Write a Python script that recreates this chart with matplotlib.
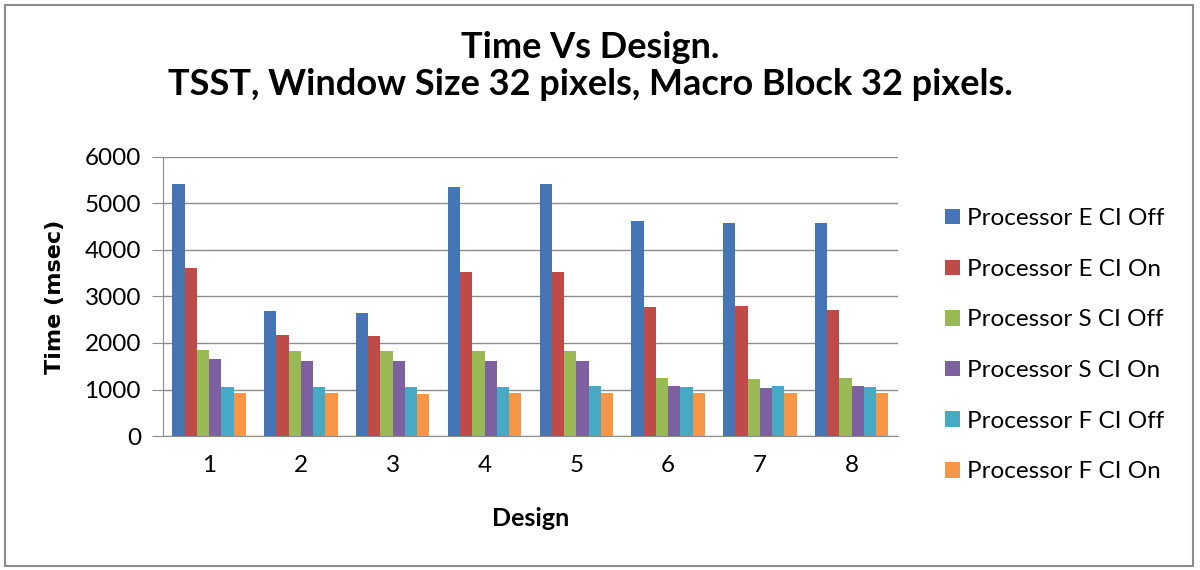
import numpy as np
import matplotlib
matplotlib.use('Agg')
import matplotlib.pyplot as plt
from matplotlib.patches import Rectangle

designs = ['1', '2', '3', '4', '5', '6', '7', '8']
series_names = ['Processor E CI Off', 'Processor E CI On',
                'Processor S CI Off', 'Processor S CI On',
                'Processor F CI Off', 'Processor F CI On']

e_ci_off = [5420, 2680, 2650, 5360, 5420, 4630, 4580, 4580]
e_ci_on = [3600, 2170, 2140, 3520, 3520, 2770, 2800, 2700]
s_ci_off = [1850, 1820, 1820, 1820, 1820, 1250, 1220, 1250]
s_ci_on = [1650, 1620, 1620, 1620, 1620, 1070, 1040, 1070]
f_ci_off = [1050, 1050, 1050, 1050, 1070, 1050, 1070, 1050]
f_ci_on = [930, 930, 900, 930, 930, 930, 930, 930]

series = [e_ci_off, e_ci_on, s_ci_off, s_ci_on, f_ci_off, f_ci_on]
colors = ['#4575b4', '#be4b48', '#98b954', '#7d60a0', '#46aac5', '#f79646']

plt.rcParams['font.family'] = ['Lato', 'DejaVu Sans']

fig = plt.figure(figsize=(12, 5.7), dpi=100)
ax = fig.add_axes([0.136, 0.235, 0.612, 0.49])

x = np.arange(len(designs))
w = 0.133
for i, (vals, name, c) in enumerate(zip(series, series_names, colors)):
    ax.bar(x + (i - 2.5) * w, vals, w, color=c, label=name, zorder=3)

ax.set_xlim(-0.5, len(designs) - 0.5)
ax.set_ylim(0, 6000)
ax.set_yticks(range(0, 6001, 1000))
ax.set_xticks(x)
ax.set_xticklabels(designs)
ax.yaxis.grid(True, color='#8c8c8c', linewidth=1, zorder=0)
for s in ['top', 'right']:
    ax.spines[s].set_visible(False)
for s in ['left', 'bottom']:
    ax.spines[s].set_color('#8c8c8c')
ax.tick_params(axis='y', length=8, color='#8c8c8c', labelsize=17.5, pad=8)
ax.tick_params(axis='x', length=0, labelsize=17.5, pad=14)

ax.set_xlabel('Design', fontsize=18, fontweight='bold', labelpad=22)
ax.set_ylabel('Time (msec)', fontsize=16, fontweight='bold',
              family='DejaVu Sans', labelpad=14)

fig.text(0.492, 0.917, 'Time Vs Design.', ha='center', va='center',
         fontsize=26, fontweight='bold')
fig.text(0.492, 0.851, 'TSST, Window Size 32 pixels, Macro Block 32 pixels.',
         ha='center', va='center', fontsize=26, fontweight='bold')

ax.legend(loc='center left', bbox_to_anchor=(1.035, 0.325), frameon=False,
          fontsize=17.5, handlelength=0.6, handleheight=0.6, handletextpad=0.3,
          labelspacing=1.22)

fig.patches.append(Rectangle((0.004, 0.007), 0.99, 0.985, transform=fig.transFigure,
                             fill=False, edgecolor='#8c8c8c', linewidth=1.5))

fig.savefig('out.png', dpi=100)
